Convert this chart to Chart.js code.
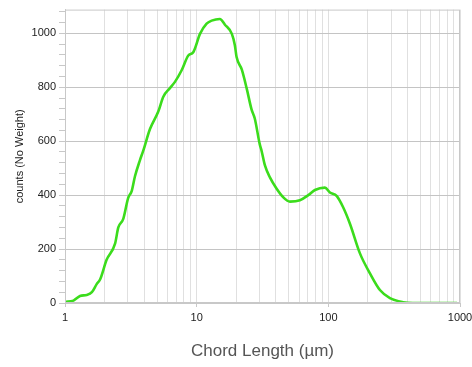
<!DOCTYPE html>
<html>
<head>
<meta charset="utf-8">
<script src="https://cdn.jsdelivr.net/npm/chart.js@4/dist/chart.umd.min.js"></script>
<style>
html,body{margin:0;padding:0;background:#fff;}
canvas{display:block;}
</style>
</head>
<body>
<canvas id="c" width="472" height="367"></canvas>
<script>
// Chord length (µm) and counts (No Weight)
const chordLength = [1.0, 1.16, 1.30, 1.46, 1.60, 1.74, 1.85, 2.07, 2.40, 2.54, 2.77, 3.02, 3.21, 3.40, 3.71, 3.93, 4.42, 5.11, 5.58, 6.27, 6.84, 7.69, 8.64, 9.42, 10.6, 11.9, 13.0, 15.0, 16.4, 18.5, 19.5, 20.1, 22.0, 24.0, 26.1, 27.6, 30.1, 31.2, 33.0, 36.0, 40.5, 45.5, 51.1, 60.8, 70.4, 79.1, 94.2, 102.8, 115.6, 129.8, 145.9, 173.8, 207, 246.5, 293.6, 368.5, 439, 600, 800, 950];
const counts      = [4, 9, 26, 30, 40, 70, 88, 160, 220, 280, 312, 390, 415, 470, 530, 565, 645, 710, 765, 797, 820, 863, 918, 930, 998, 1036, 1047, 1053, 1032, 998, 956, 912, 866, 795, 718, 685, 590, 562, 510, 466, 424, 392, 376, 381, 400, 419, 428, 410, 397, 354, 294, 184, 110, 48, 18, 3, 0, 0, 0, 0];
const xMajorLabels = [1, 10, 100, 1000];
const yMajorStep = 200;
const yMinorStep = 40;

const points = chordLength.map((v, i) => ({x: v, y: counts[i]}));

const frame = {
  id: 'frame',
  afterDraw(chart) {
    const a = chart.chartArea, ctx = chart.ctx;
    ctx.save();
    ctx.strokeStyle = '#c8c8c8';
    ctx.lineWidth = 1;
    ctx.strokeRect(a.left + 0.5, a.top + 0.5, a.right - a.left - 1, a.bottom - a.top - 1);
    ctx.restore();
  }
};

new Chart(document.getElementById('c'), {
  type: 'scatter',
  data: {
    datasets: [{
      data: points,
      showLine: true,
      borderColor: '#3bdc1c',
      backgroundColor: '#3bdc1c',
      borderWidth: 2.6,
      pointRadius: 0,
      tension: 0.35,
      cubicInterpolationMode: 'monotone'
    }]
  },
  options: {
    responsive: false,
    animation: false,
    layout: {padding: {top: 7, right: 0, left: 0, bottom: 0}},
    plugins: {legend: {display: false}, tooltip: {enabled: false}},
    scales: {
      x: {
        type: 'logarithmic',
        min: 1, max: 1000,
        afterBuildTicks(scale) {
          const t = [];
          for (let d = 1; d < 1000; d *= 10) {
            for (let k = 1; k < 10; k++) t.push({value: k * d});
          }
          t.push({value: 1000});
          scale.ticks = t;
        },
        afterFit(scale) { scale.height = 64; scale.paddingRight = 12; scale.paddingLeft = 0; },
        ticks: {
          autoSkip: false,
          maxRotation: 0,
          padding: 4,
          color: '#222',
          font: {family: 'Liberation Sans, Arial, sans-serif', size: 11},
          callback: (v) => xMajorLabels.includes(v) ? String(v) : ''
        },
        grid: {
          color: '#e0e0e0',
          drawTicks: true,
          tickLength: 4,
          tickColor: (ctx) => xMajorLabels.includes(ctx.tick && ctx.tick.value) ? '#c8c8c8' : 'rgba(0,0,0,0)'
        },
        border: {display: true, color: '#c8c8c8'},
        title: {
          display: true,
          text: 'Chord Length (µm)',
          color: '#555',
          font: {family: 'Liberation Sans, Arial, sans-serif', size: 17},
          padding: {top: 4, bottom: 5}
        }
      },
      y: {
        min: 0, max: 1088,
        afterBuildTicks(scale) {
          const t = [];
          for (let v = 0; v <= 1088; v += yMinorStep) t.push({value: v});
          scale.ticks = t;
        },
        afterFit(scale) { scale.width = 65; },
        ticks: {
          autoSkip: false,
          padding: 3,
          color: '#222',
          font: {family: 'Liberation Sans, Arial, sans-serif', size: 11},
          callback: (v) => v % yMajorStep === 0 ? String(v) : ''
        },
        grid: {
          color: (ctx) => (ctx.tick && ctx.tick.value % yMajorStep === 0 && ctx.tick.value !== 0) ? '#c4c4c4' : 'rgba(0,0,0,0)',
          borderDash: [1, 2],
          tickBorderDash: [],
          tickLength: 6,
          tickColor: '#c8c8c8'
        },
        border: {display: true, color: '#c8c8c8'},
        title: {
          display: true,
          text: 'counts (No Weight)',
          color: '#222',
          font: {family: 'Liberation Sans, Arial, sans-serif', size: 11},
          padding: {top: 13, bottom: 0}
        }
      }
    }
  },
  plugins: [frame]
});
</script>
</body>
</html>
